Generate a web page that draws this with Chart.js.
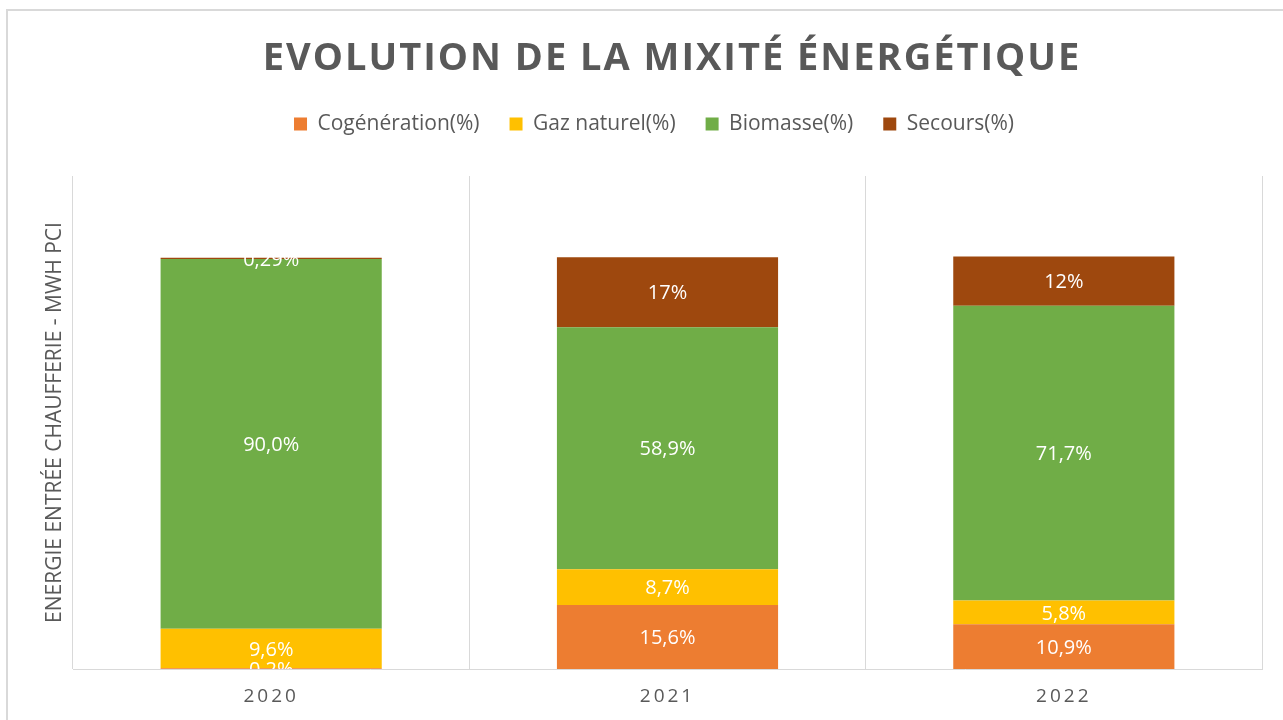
<!DOCTYPE html>
<html>
<head>
<meta charset="utf-8">
<script src="https://cdn.jsdelivr.net/npm/chart.js@4.4.1/dist/chart.umd.min.js"></script>
<style>
  html, body { margin: 0; padding: 0; background: #ffffff; overflow: hidden; }
  #frame { position: absolute; left: 6px; top: 9px; width: 1300px; height: 800px; border: 2px solid #d9d9d9; box-sizing: border-box; }
  #wrap { position: absolute; left: 0; top: 0; width: 1283px; height: 720px; }
</style>
</head>
<body>
<div id="frame"></div>
<div id="wrap"><canvas id="c"></canvas></div>
<script>
// ---- data ----
const categories = ['2020', '2021', '2022'];
const seriesNames = ['Cogénération(%)', 'Gaz naturel(%)', 'Biomasse(%)', 'Secours(%)'];
const cogeneration = [0.2, 15.6, 10.9];
const gazNaturel = [9.6, 8.7, 5.8];
const biomasse = [90.0, 58.9, 71.7];
const secours = [0.29, 17, 12];
const cogenerationLabels = ['0,2%', '15,6%', '10,9%'];
const gazNaturelLabels = ['9,6%', '8,7%', '5,8%'];
const biomasseLabels = ['90,0%', '58,9%', '71,7%'];
const secoursLabels = ['0,29%', '17%', '12%'];
const titleText = 'EVOLUTION DE LA MIXITÉ ÉNERGÉTIQUE';
const yAxisTitle = 'ENERGIE ENTRÉE CHAUFFERIE - MWH PCI';

const colors = ['#ED7D31', '#FFC000', '#70AD47', '#9E480E'];
const seriesValues = [cogeneration, gazNaturel, biomasse, secours];
const seriesLabels = [cogenerationLabels, gazNaturelLabels, biomasseLabels, secoursLabels];

const FONT = "'Open Sans', 'Noto Sans', sans-serif";
const GREY = '#595959';

// spacing / label plugin
const customPlugin = {
  id: 'custom',
  beforeUpdate(chart) {
    if (chart.legend && !chart.legend._patched) {
      const lg = chart.legend;
      const origFit = lg.fit;
      lg.fit = function () {
        origFit.call(this);
        this.height = 94.4;
      };
      const origLgDraw = lg.draw;
      lg.draw = function () {
        const ctx = this.ctx;
        ctx.save();
        ctx.translate(23, 2);
        origLgDraw.call(this);
        ctx.restore();
      };
      lg._patched = true;
    }
    if (chart.titleBlock && !chart.titleBlock._patched) {
      const tb = chart.titleBlock;
      const origDraw = tb.draw;
      tb.draw = function () {
        const ctx = this.ctx;
        ctx.save();
        ctx.translate(41, 0);
        ctx.letterSpacing = '2px';
        origDraw.call(this);
        ctx.restore();
        ctx.letterSpacing = '0px';
      };
      tb._patched = true;
    }
  },
  beforeDraw(chart) {
    const xs = chart.scales.x;
    if (xs && !xs._patched) {
      const orig = xs.drawLabels;
      xs.drawLabels = function (area) {
        const ctx = this.ctx;
        ctx.save();
        ctx.letterSpacing = '3px';
        orig.call(this, area);
        ctx.restore();
        ctx.letterSpacing = '0px';
      };
      xs._patched = true;
    }
  },
  afterDatasetsDraw(chart) {
    const ctx = chart.ctx;
    const area = chart.chartArea;
    ctx.save();
    ctx.beginPath();
    ctx.rect(area.left, area.top, area.right - area.left, area.bottom - area.top);
    ctx.clip();
    ctx.fillStyle = '#ffffff';
    ctx.font = "20px " + FONT;
    ctx.textAlign = 'center';
    ctx.textBaseline = 'middle';
    chart.data.datasets.forEach((ds, di) => {
      const meta = chart.getDatasetMeta(di);
      meta.data.forEach((el, i) => {
        const y = (el.y + el.base) / 2 + 1.5;
        ctx.fillText(seriesLabels[di][i], el.x, y);
      });
    });
    ctx.restore();
  }
};

new Chart(document.getElementById('c'), {
  type: 'bar',
  data: {
    labels: categories,
    datasets: seriesValues.map((vals, i) => ({
      label: seriesNames[i],
      data: vals,
      backgroundColor: colors[i],
      borderWidth: 0,
      categoryPercentage: 0.558,
      barPercentage: 1.0
    }))
  },
  options: {
    responsive: true,
    maintainAspectRatio: false,
    animation: false,
    layout: { padding: { left: 0, right: 21, top: 0, bottom: 0 } },
    plugins: {
      tooltip: { enabled: false },
      title: {
        display: true,
        text: titleText,
        color: GREY,
        font: { family: FONT, size: 38, weight: 'bold' },
        padding: { top: 36, bottom: 0 }
      },
      legend: {
        display: true,
        position: 'top',
        labels: {
          color: GREY,
          font: { family: FONT, size: 21 },
          boxWidth: 13,
          boxHeight: 13,
          padding: 30
        }
      }
    },
    scales: {
      x: {
        stacked: true,
        offset: true,
        grid: { display: true, color: '#d9d9d9', lineWidth: 1, offset: true, drawTicks: false },
        border: { display: true, color: '#d9d9d9', width: 1 },
        ticks: { color: GREY, font: { family: FONT, size: 19 }, padding: 16 },
        afterFit(scale) { scale.height = 51; }
      },
      y: {
        stacked: true,
        min: 0,
        max: 120,
        grid: { display: false, drawTicks: false },
        border: { display: false },
        ticks: { display: false },
        title: {
          display: true,
          text: yAxisTitle,
          color: GREY,
          font: { family: FONT, size: 21 },
          padding: { top: 42, bottom: 0 }
        },
        afterFit(scale) { scale.width = 73; }
      }
    }
  },
  plugins: [customPlugin]
});
</script>
</body>
</html>
